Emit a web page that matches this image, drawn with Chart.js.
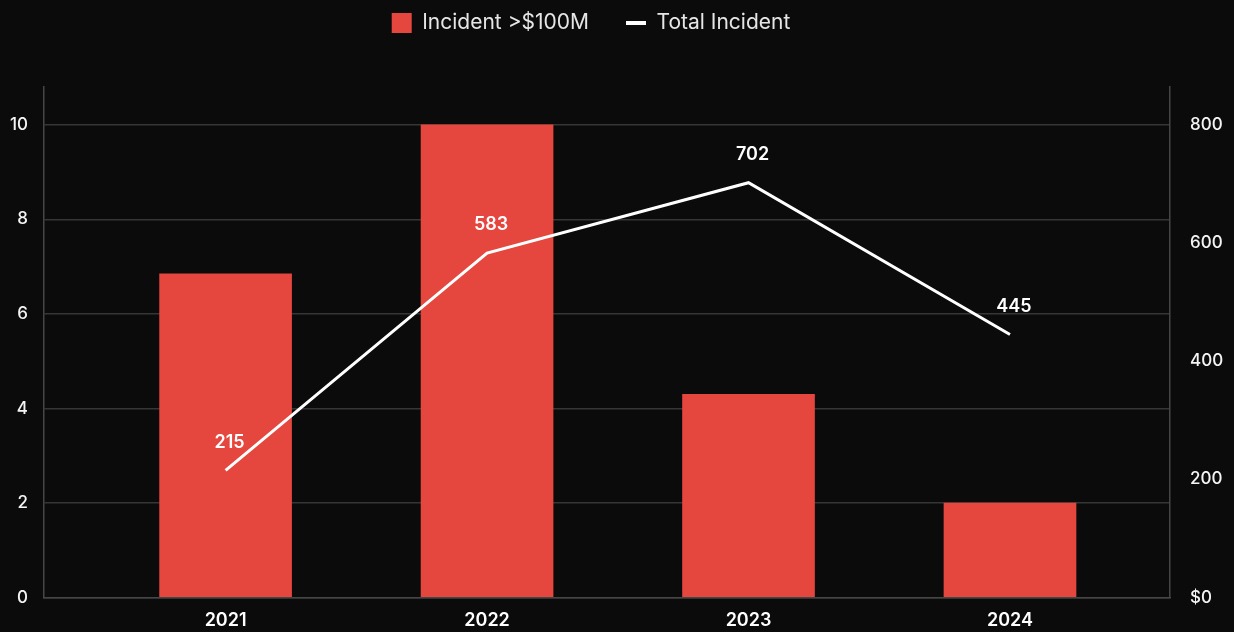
<!DOCTYPE html>
<html>
<head>
<meta charset="utf-8">
<script src="https://cdn.jsdelivr.net/npm/chart.js@4.4.1/dist/chart.umd.min.js"></script>
<style>
  html, body { margin: 0; padding: 0; background: #0b0b0b; }
  #wrap { position: relative; width: 1234px; height: 632px; }
</style>
</head>
<body>
<div id="wrap"><canvas id="chart"></canvas></div>
<script>
// Yearly incident data
const years = ['2021', '2022', '2023', '2024'];
const incidentsOver100M = [6.85, 10, 4.3, 2];
const totalIncidents = [215, 583, 702, 445];

// Axis ticks
const leftTicks = [0, 2, 4, 6, 8, 10];
const rightTicks = [0, 200, 400, 600, 800];
const rightTickLabels = ['$0', '200', '400', '600', '800'];

const FONT = 'Inter, "Noto Sans", "DejaVu Sans", sans-serif';
const RED = '#e5463d';
const GRID = '#363636';
const AXIS_LINE = '#464646';

// Reserve a band above the plot for the legend and lift the legend row toward the top edge
const legendBand = {
  id: 'legendBand',
  beforeInit(chart) {
    const fit = chart.legend.fit;
    chart.legend.fit = function () {
      fit.call(this);
      this.height = 87;
    };
  },
  afterLayout(chart) {
    chart.legend.top -= 24.5;
    chart.legend.left -= 26;
    chart.legend.right -= 26;
  }
};

// Value labels above the total-incident line
const pointValueLabels = {
  id: 'pointValueLabels',
  afterDatasetsDraw(chart) {
    const meta = chart.getDatasetMeta(1);
    const data = chart.data.datasets[1].data;
    const ctx = chart.ctx;
    ctx.save();
    ctx.font = '600 18px ' + FONT;
    ctx.fillStyle = '#ffffff';
    ctx.textAlign = 'center';
    ctx.textBaseline = 'middle';
    meta.data.forEach((pt, i) => {
      ctx.fillText(String(data[i].y), pt.x + 4, pt.y - 28);
    });
    ctx.restore();
  }
};

new Chart(document.getElementById('chart'), {
  data: {
    datasets: [
      {
        type: 'bar',
        label: 'Incident >$100M',
        data: years.map((_, i) => ({ x: i, y: incidentsOver100M[i] })),
        backgroundColor: RED,
        borderWidth: 0,
        barThickness: 132,
        yAxisID: 'y',
        order: 1,
        pointStyle: 'rect'
      },
      {
        type: 'line',
        label: 'Total Incident',
        data: years.map((_, i) => ({ x: i, y: totalIncidents[i] })),
        borderColor: '#ffffff',
        backgroundColor: '#ffffff',
        borderWidth: 3,
        pointRadius: 0,
        tension: 0,
        yAxisID: 'y1',
        order: 0,
        pointStyle: 'line'
      }
    ]
  },
  options: {
    responsive: true,
    maintainAspectRatio: false,
    animation: false,
    layout: { padding: 0 },
    plugins: {
      tooltip: { enabled: false },
      legend: {
        position: 'top',
        labels: {
          usePointStyle: true,
          pointStyleWidth: 20,
          boxHeight: 20,
          padding: 37,
          color: '#e6e6e6',
          font: { family: FONT, size: 21, weight: '400' },
          sort: (a, b) => a.datasetIndex - b.datasetIndex,
          generateLabels(chart) {
            const items = Chart.defaults.plugins.legend.labels.generateLabels(chart);
            return items.map(item => {
              if (item.datasetIndex === 0) {
                return { ...item, pointStyle: 'rect', fillStyle: RED, strokeStyle: RED, lineWidth: 0 };
              }
              return { ...item, pointStyle: 'line', fillStyle: '#ffffff', strokeStyle: '#ffffff', lineWidth: 4 };
            });
          }
        }
      }
    },
    scales: {
      x: {
        type: 'linear',
        offset: false,
        min: -0.6945,
        max: 3.612,
        grid: { display: false, drawTicks: false },
        border: { display: true, color: AXIS_LINE, width: 1.5 },
        afterBuildTicks(scale) {
          scale.ticks = years.map((_, i) => ({ value: i }));
        },
        afterFit(scale) { scale.height = 34.5; },
        ticks: {
          color: '#ffffff',
          padding: 12,
          maxRotation: 0,
          font: { family: FONT, size: 18, weight: '600' },
          callback: (v) => years[v] ?? ''
        }
      },
      y: {
        type: 'linear',
        position: 'left',
        min: 0,
        max: 10.8,
        grid: { color: GRID, lineWidth: 1.5, drawTicks: false },
        border: { display: true, color: AXIS_LINE, width: 1.5 },
        afterBuildTicks(scale) {
          scale.ticks = leftTicks.map(v => ({ value: v }));
        },
        afterFit(scale) { scale.width = 44; },
        ticks: {
          color: '#f4f4f4',
          padding: 16,
          font: { family: FONT, size: 17, weight: '500' }
        }
      },
      y1: {
        type: 'linear',
        position: 'right',
        min: 0,
        max: 864,
        grid: { display: false, drawOnChartArea: false, drawTicks: false },
        border: { display: true, color: AXIS_LINE, width: 1.5 },
        afterBuildTicks(scale) {
          scale.ticks = rightTicks.map(v => ({ value: v }));
        },
        afterFit(scale) { scale.width = 64; },
        ticks: {
          color: '#f4f4f4',
          padding: 20,
          font: { family: FONT, size: 17, weight: '500' },
          callback: (v) => rightTickLabels[rightTicks.indexOf(v)]
        }
      }
    }
  },
  plugins: [legendBand, pointValueLabels]
});
</script>
</body>
</html>
